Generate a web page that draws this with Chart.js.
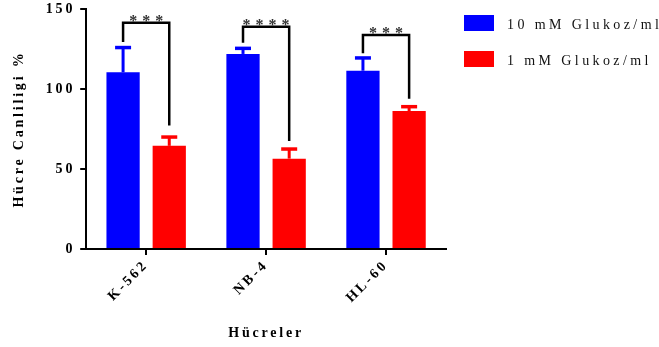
<!DOCTYPE html>
<html>
<head>
<meta charset="utf-8">
<script src="https://cdn.jsdelivr.net/npm/chart.js@4.4.0/dist/chart.umd.min.js"></script>
<style>
  html, body { margin: 0; padding: 0; background: #fff; }
  #wrap { width: 659px; height: 347px; position: relative; }
</style>
</head>
<body>
<div id="wrap"><canvas id="chart"></canvas></div>
<script>
// Cell lines and viability values (%)
const categories = ['K-562', 'NB-4', 'HL-60'];
const seriesLabels = ['10 mM Glukoz/ml', '1 mM Glukoz/ml'];
const glucose10 = [110.5, 122, 111.5];
const glucose10Err = [15.5, 3.5, 8];
const glucose1 = [64.5, 56.5, 86.3];
const glucose1Err = [5.5, 6, 2.7];
const yTicks = [0, 50, 100, 150];

// significance brackets (value units)
const sigStars = ['***', '****', '***'];
const bracketTop = [141.5, 139, 133.8];
const bracketLeftEnd = [129.5, 129, 122.5];
const bracketRightEnd = [77.3, 67.5, 94];

const serif = '"Liberation Serif", "Times New Roman", serif';
const errors = [glucose10Err, glucose1Err];

function setSpacing(ctx, px) {
    if ('letterSpacing' in ctx) ctx.letterSpacing = px + 'px';
}

// letter spacing like the original export
const spacingPlugin = {
    id: 'spacing',
    beforeLayout(chart) { setSpacing(chart.ctx, 2.8); },
    beforeDraw(chart) { setSpacing(chart.ctx, 2.8); }
};

// error bars (upper only)
const errorBarPlugin = {
    id: 'errorBars',
    afterDatasetsDraw(chart) {
        const ctx = chart.ctx;
        const y = chart.scales.y;
        chart.data.datasets.forEach((ds, i) => {
            const meta = chart.getDatasetMeta(i);
            meta.data.forEach((bar, j) => {
                const top = y.getPixelForValue(ds.data[j] + errors[i][j]);
                ctx.save();
                ctx.strokeStyle = ds.backgroundColor;
                ctx.lineWidth = 3;
                ctx.beginPath();
                ctx.moveTo(bar.x, bar.y);
                ctx.lineTo(bar.x, top);
                ctx.stroke();
                ctx.lineWidth = 3.5;
                ctx.beginPath();
                ctx.moveTo(bar.x - 8, top);
                ctx.lineTo(bar.x + 8, top);
                ctx.stroke();
                ctx.restore();
            });
        });
    }
};

// significance brackets + stars
const bracketPlugin = {
    id: 'brackets',
    afterDatasetsDraw(chart) {
        const ctx = chart.ctx;
        const y = chart.scales.y;
        const m0 = chart.getDatasetMeta(0), m1 = chart.getDatasetMeta(1);
        categories.forEach((c, j) => {
            const x1 = m0.data[j].x, x2 = m1.data[j].x;
            const yt = y.getPixelForValue(bracketTop[j]);
            ctx.save();
            ctx.strokeStyle = '#000';
            ctx.lineWidth = 2.5;
            ctx.beginPath();
            ctx.moveTo(x1, y.getPixelForValue(bracketLeftEnd[j]));
            ctx.lineTo(x1, yt);
            ctx.lineTo(x2, yt);
            ctx.lineTo(x2, y.getPixelForValue(bracketRightEnd[j]));
            ctx.stroke();
            setSpacing(ctx, 5);
            ctx.fillStyle = '#333';
            ctx.font = 'bold 16px ' + serif;
            ctx.textAlign = 'center';
            ctx.textBaseline = 'alphabetic';
            ctx.fillText(sigStars[j], (x1 + x2) / 2 + 2.5, yt + 3);
            ctx.restore();
        });
    }
};

// legend at the right
const legendPlugin = {
    id: 'sideLegend',
    afterDraw(chart) {
        const ctx = chart.ctx;
        chart.data.datasets.forEach((ds, i) => {
            const top = 15 + i * 36;
            ctx.save();
            ctx.fillStyle = ds.backgroundColor;
            ctx.fillRect(464, top, 30, 16);
            setSpacing(ctx, 3.4);
            ctx.fillStyle = '#111';
            ctx.font = '14px ' + serif;
            ctx.textAlign = 'left';
            ctx.textBaseline = 'middle';
            ctx.fillText(ds.label, 507, top + 10);
            ctx.restore();
        });
    }
};

const ctx = document.getElementById('chart').getContext('2d');
new Chart(ctx, {
    type: 'bar',
    data: {
        labels: categories,
        datasets: [
            { label: seriesLabels[0], data: glucose10, backgroundColor: '#0000ff',
              categoryPercentage: 0.77, barPercentage: 0.72 },
            { label: seriesLabels[1], data: glucose1, backgroundColor: '#ff0000',
              categoryPercentage: 0.77, barPercentage: 0.72 }
        ]
    },
    options: {
        responsive: true,
        maintainAspectRatio: false,
        animation: false,
        layout: { padding: { top: 9, right: 213, bottom: 1, left: 7 } },
        plugins: {
            legend: { display: false },
            tooltip: { enabled: false }
        },
        scales: {
            x: {
                grid: { offset: false, drawOnChartArea: false, drawTicks: true, tickLength: 6, color: '#000', lineWidth: 2 },
                border: { color: '#000', width: 2 },
                ticks: {
                    color: '#000', font: { family: serif, size: 14, weight: 'bold' },
                    minRotation: 45, maxRotation: 45, padding: 2
                },
                title: {
                    display: true, text: 'Hücreler', color: '#000',
                    font: { family: serif, size: 14, weight: 'bold' }, padding: { top: 17 }
                }
            },
            y: {
                min: 0, max: 150,
                afterBuildTicks(scale) { scale.ticks = yTicks.map(v => ({ value: v })); },
                grid: { drawOnChartArea: false, drawTicks: true, tickLength: 6, color: '#000', lineWidth: 2 },
                border: { color: '#000', width: 2 },
                ticks: { color: '#000', font: { family: serif, size: 14, weight: 'bold', lineHeight: 0.6 }, padding: 5 },
                title: {
                    display: true, text: 'Hücre Canliligi %', color: '#000',
                    font: { family: serif, size: 14, weight: 'bold' }, padding: { bottom: 13 }
                }
            }
        }
    },
    plugins: [spacingPlugin, errorBarPlugin, bracketPlugin, legendPlugin]
});
</script>
</body>
</html>
